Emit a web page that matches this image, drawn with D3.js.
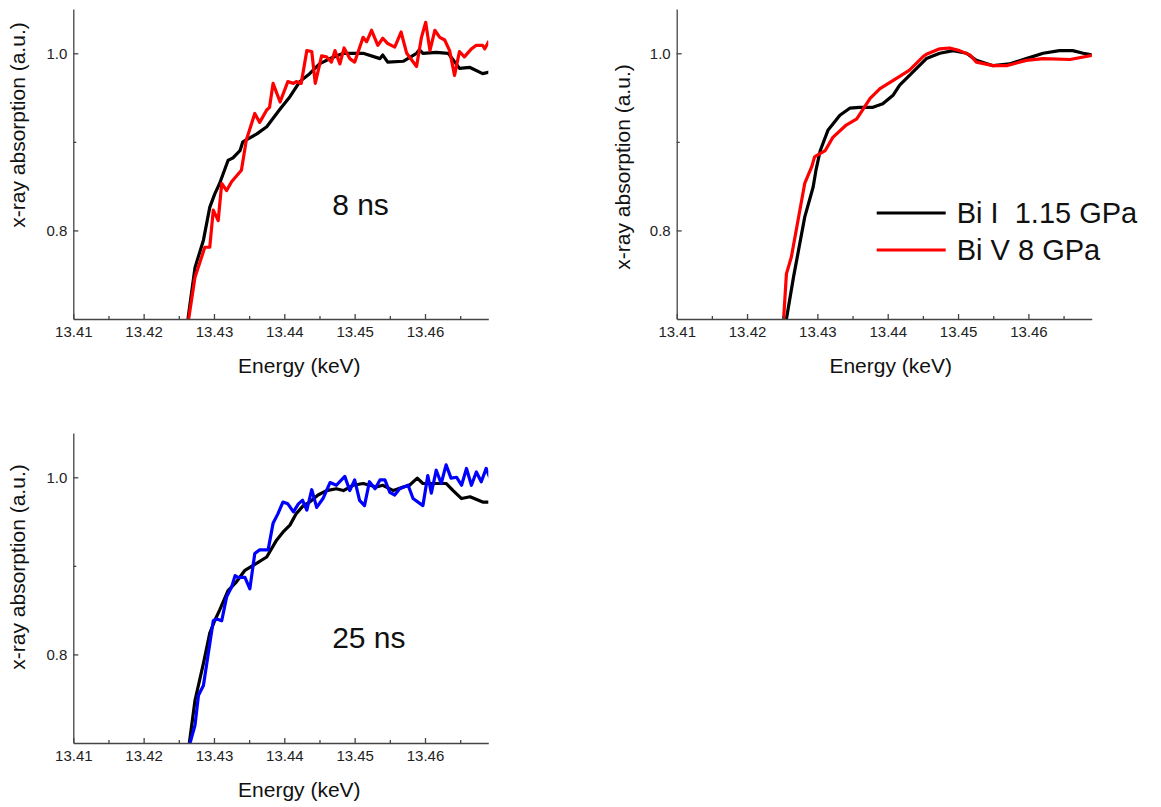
<!DOCTYPE html>
<html>
<head>
<meta charset="utf-8">
<script src="https://cdn.jsdelivr.net/npm/d3@7"></script>
<style>
  body { margin: 0; background: #fff; }
  svg { font-family: "Liberation Sans", Arial, sans-serif; }
</style>
</head>
<body>
<svg id="chart" width="1161" height="807"></svg>
<script>
'use strict';

// energy axis (keV) and absorption axis
const xMajor = [13.41, 13.42, 13.43, 13.44, 13.45, 13.46];
const xMinor = [13.415, 13.425, 13.435, 13.445, 13.455, 13.465];
const yMajor = [0.8, 1.0];
const yMinor = [0.9];

// 8 ns panel: Bi I reference
const bi1_8ns = [
  [13.4263, 0.700], [13.4273, 0.758], [13.4285, 0.789], [13.4294, 0.826], [13.4301, 0.841],
  [13.4308, 0.853], [13.4320, 0.879], [13.4327, 0.882], [13.4337, 0.890], [13.4341, 0.900],
  [13.4361, 0.909], [13.4375, 0.917], [13.4394, 0.937], [13.4408, 0.951], [13.4422, 0.968],
  [13.4436, 0.977], [13.4450, 0.988], [13.4465, 0.994], [13.4484, 1.000], [13.4512, 1.000],
  [13.4536, 0.994], [13.4540, 0.998], [13.4547, 0.990], [13.4569, 0.991], [13.4588, 1.000],
  [13.4592, 1.004], [13.4597, 1.000], [13.4616, 1.001], [13.4633, 1.000], [13.4649, 0.983],
  [13.4664, 0.984], [13.4682, 0.977], [13.4692, 0.979]
];
// 8 ns panel: shocked sample
const shot_8ns = [
  [13.4264, 0.700], [13.4273, 0.747], [13.4287, 0.781], [13.4294, 0.781], [13.4299, 0.823],
  [13.4306, 0.811], [13.4311, 0.853], [13.4318, 0.845], [13.4325, 0.855], [13.4339, 0.868],
  [13.4346, 0.902], [13.4358, 0.932], [13.4365, 0.922], [13.4375, 0.936], [13.4379, 0.939],
  [13.4384, 0.966], [13.4394, 0.945], [13.4405, 0.968], [13.4413, 0.966], [13.4417, 0.968],
  [13.4424, 0.966], [13.4432, 1.003], [13.4439, 1.002], [13.4444, 0.966], [13.4453, 0.997],
  [13.4460, 0.996], [13.4467, 0.990], [13.4472, 1.003], [13.4479, 0.988], [13.4485, 1.006],
  [13.4493, 0.994], [13.4500, 0.990], [13.4512, 1.018], [13.4517, 1.013], [13.4524, 1.026],
  [13.4533, 1.009], [13.4540, 1.017], [13.4547, 1.011], [13.4557, 1.007], [13.4566, 1.024],
  [13.4574, 1.000], [13.4588, 0.985], [13.4595, 1.018], [13.4601, 1.035], [13.4607, 1.003],
  [13.4614, 1.026], [13.4621, 1.018], [13.4628, 1.015], [13.4635, 1.003], [13.4642, 0.975],
  [13.4649, 1.002], [13.4656, 0.996], [13.4666, 1.005], [13.4673, 1.009], [13.4682, 1.009],
  [13.4685, 1.005], [13.4691, 1.014]
];
// static references: Bi I 1.15 GPa, Bi V 8 GPa
const bi1_ref = [
  [13.4256, 0.700], [13.4266, 0.747], [13.4282, 0.815], [13.4294, 0.849], [13.4298, 0.868],
  [13.4304, 0.890], [13.4315, 0.913], [13.4332, 0.930], [13.4346, 0.938], [13.4360, 0.939],
  [13.4379, 0.939], [13.4393, 0.943], [13.4408, 0.953], [13.4417, 0.964], [13.4436, 0.979],
  [13.4455, 0.994], [13.4474, 1.000], [13.4493, 1.003], [13.4512, 1.000], [13.4526, 0.992],
  [13.4550, 0.986], [13.4573, 0.988], [13.4597, 0.994], [13.4621, 1.000], [13.4644, 1.003],
  [13.4663, 1.003], [13.4678, 1.000], [13.4692, 0.998]
];
const bi5_ref = [
  [13.4252, 0.700], [13.4256, 0.751], [13.4263, 0.770], [13.4282, 0.853], [13.4292, 0.872],
  [13.4296, 0.883], [13.4311, 0.890], [13.4322, 0.905], [13.4341, 0.919], [13.4356, 0.926],
  [13.4375, 0.949], [13.4389, 0.960], [13.4417, 0.974], [13.4431, 0.981], [13.4450, 0.996],
  [13.4455, 0.999], [13.4474, 1.005], [13.4488, 1.006], [13.4502, 1.003], [13.4517, 0.998],
  [13.4526, 0.990], [13.4550, 0.986], [13.4569, 0.986], [13.4597, 0.992], [13.4621, 0.994],
  [13.4659, 0.993], [13.4692, 0.998]
];
// 25 ns panel
const bi1_25ns = [
  [13.4265, 0.700], [13.4273, 0.748], [13.4285, 0.790], [13.4294, 0.824], [13.4301, 0.838],
  [13.4308, 0.850], [13.4320, 0.872], [13.4332, 0.882], [13.4344, 0.895], [13.4361, 0.903],
  [13.4375, 0.910], [13.4389, 0.929], [13.4398, 0.938], [13.4408, 0.946], [13.4417, 0.959],
  [13.4427, 0.968], [13.4436, 0.972], [13.4448, 0.980], [13.4460, 0.985], [13.4474, 0.987],
  [13.4484, 0.985], [13.4498, 0.991], [13.4512, 0.993], [13.4531, 0.989], [13.4540, 0.991],
  [13.4555, 0.985], [13.4569, 0.989], [13.4578, 0.991], [13.4589, 0.999], [13.4597, 0.993],
  [13.4616, 0.993], [13.4630, 0.993], [13.4640, 0.985], [13.4652, 0.976], [13.4664, 0.978],
  [13.4682, 0.972], [13.4692, 0.972]
];
const shot_25ns = [
  [13.4266, 0.700], [13.4273, 0.720], [13.4278, 0.754], [13.4285, 0.765], [13.4299, 0.838],
  [13.4304, 0.840], [13.4311, 0.838], [13.4318, 0.865], [13.4325, 0.876], [13.4330, 0.889],
  [13.4334, 0.887], [13.4344, 0.887], [13.4351, 0.874], [13.4358, 0.914], [13.4365, 0.918],
  [13.4377, 0.918], [13.4384, 0.948], [13.4391, 0.959], [13.4398, 0.972], [13.4405, 0.970],
  [13.4413, 0.961], [13.4420, 0.970], [13.4426, 0.974], [13.4432, 0.963], [13.4439, 0.986],
  [13.4446, 0.966], [13.4455, 0.976], [13.4465, 0.994], [13.4474, 0.991], [13.4486, 1.001],
  [13.4493, 0.985], [13.4500, 0.997], [13.4507, 0.974], [13.4514, 0.968], [13.4521, 0.995],
  [13.4529, 0.987], [13.4536, 0.997], [13.4543, 0.997], [13.4550, 0.983], [13.4557, 0.980],
  [13.4564, 0.987], [13.4576, 0.991], [13.4583, 0.976], [13.4597, 0.968], [13.4604, 1.002],
  [13.4609, 0.982], [13.4616, 1.008], [13.4623, 0.993], [13.4630, 1.014], [13.4637, 0.999],
  [13.4645, 1.000], [13.4652, 0.991], [13.4659, 1.010], [13.4666, 0.991], [13.4673, 1.006],
  [13.4680, 0.995], [13.4687, 1.010], [13.4692, 1.000]
];

const legendLabels = ['Bi I  1.15 GPa', 'Bi V 8 GPa'];

const svg = d3.select('#chart');
const W = 415, H = 310;

function panel(id, left, top, series, opt) {
  const g = svg.append('g').attr('transform', `translate(${left}, ${top})`);

  const x = d3.scaleLinear().domain([13.41, 13.469]).range([0, W]);
  const y = d3.scaleLinear().domain([0.7, 1.05]).range([H, 0]);

  g.append('clipPath').attr('id', id)
    .append('rect').attr('width', W).attr('height', H);

  const line = d3.line().x(d => x(d[0])).y(d => y(d[1]));

  g.append('g').attr('clip-path', `url(#${id})`)
    .selectAll('path')
    .data(series)
   .enter().append('path')
    .attr('d', s => line(s.values))
    .attr('fill', 'none')
    .attr('stroke', s => s.color)
    .attr('stroke-width', 3.2)
    .attr('stroke-linejoin', 'round');

  // axes: only left + bottom, ticks pointing inward
  g.append('g').attr('class', 'x-axis')
    .attr('transform', `translate(0, ${H})`)
    .call(d3.axisBottom(x).tickValues(xMajor).tickFormat(d3.format('.2f'))
      .tickSizeInner(-5).tickSizeOuter(0).tickPadding(7));
  g.append('g')
    .attr('transform', `translate(0, ${H})`)
    .call(d3.axisBottom(x).tickValues(xMinor).tickFormat('').tickSizeInner(-3).tickSizeOuter(0))
    .select('.domain').remove();

  g.append('g').attr('class', 'y-axis')
    .call(d3.axisLeft(y).tickValues(yMajor).tickFormat(d3.format('.1f'))
      .tickSizeInner(-5).tickSizeOuter(0).tickPadding(6));
  g.append('g')
    .call(d3.axisLeft(y).tickValues(yMinor).tickFormat('').tickSizeInner(-3).tickSizeOuter(0))
    .select('.domain').remove();

  g.selectAll('.domain, .tick line').attr('stroke', '#444').attr('stroke-width', 1.3);
  g.selectAll('.tick text').attr('font-size', 15).attr('fill', '#222')
    .attr('font-family', '"Liberation Sans", Arial, sans-serif');

  g.append('text')
    .attr('x', opt.xTitle).attr('y', H + 54)
    .attr('text-anchor', 'middle').attr('font-size', 21).attr('fill', '#111')
    .text('Energy (keV)');

  g.append('text')
    .attr('transform', `translate(${opt.yTitleX}, ${opt.yTitleY}) rotate(-90)`)
    .attr('text-anchor', 'middle').attr('font-size', 21).attr('fill', '#111')
    .text('x-ray absorption (a.u.)');

  if (opt.note) {
    g.append('text')
      .attr('x', x(opt.note.at)).attr('y', y(opt.note.v))
      .attr('font-size', 30).attr('fill', '#111')
      .text(opt.note.text);
  }
  return { g, x, y };
}

panel('clipA', 73.3, 9, [
  { values: bi1_8ns, color: '#000' },
  { values: shot_8ns, color: '#ff0000' }
], { xTitle: 226, yTitleX: -48, yTitleY: 116, note: { text: '8 ns', at: 13.4468, v: 0.817 } });

const pb = panel('clipB', 676.7, 9, [
  { values: bi1_ref, color: '#000' },
  { values: bi5_ref, color: '#ff0000' }
], { xTitle: 214, yTitleX: -47, yTitleY: 158 });

panel('clipC', 73.3, 433, [
  { values: bi1_25ns, color: '#000' },
  { values: shot_25ns, color: '#0000ff' }
], { xTitle: 226, yTitleX: -48, yTitleY: 134, note: { text: '25 ns', at: 13.4468, v: 0.807 } });

// legend in the reference panel
const legend = pb.g.append('g').attr('transform', 'translate(200, 204)')
  .selectAll('g')
  .data(legendLabels.map((t, i) => ({ t, c: ['#000', '#ff0000'][i] })))
 .enter().append('g')
  .attr('transform', (d, i) => `translate(0, ${i * 37})`);
legend.append('line')
  .attr('x1', 0).attr('x2', 69)
  .attr('stroke', d => d.c).attr('stroke-width', 3.2);
legend.append('text')
  .attr('x', 80).attr('y', 10)
  .attr('font-size', 29).attr('fill', '#111')
  .attr('xml:space', 'preserve')
  .style('white-space', 'pre')
  .text(d => d.t);
</script>
</body>
</html>
